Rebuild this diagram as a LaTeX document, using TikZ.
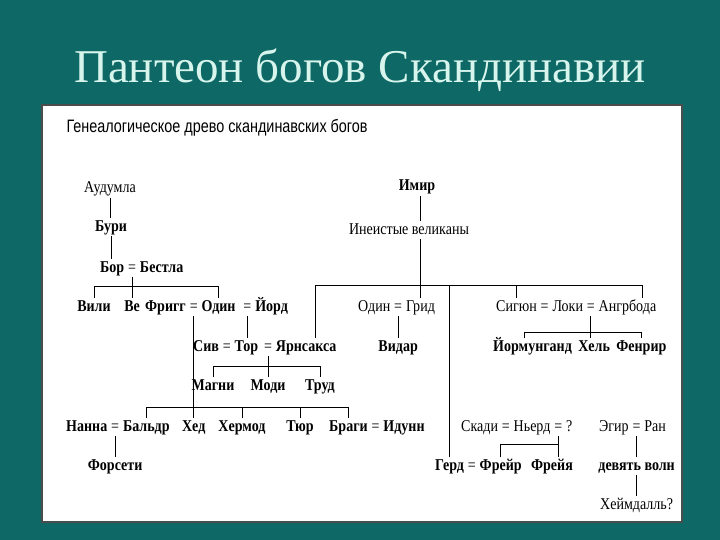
\documentclass[tikz,border=0pt]{standalone}
\usepackage{fontspec}
\setmainfont{Liberation Serif}
\newfontfamily\treefont[FakeStretch=0.85]{Liberation Serif}
\newfontfamily\headfont[FakeStretch=0.8]{Liberation Sans}
\usetikzlibrary{positioning}
\definecolor{slidebg}{RGB}{14,104,102}
\definecolor{titlefg}{RGB}{215,245,236}

\begin{document}
\begin{tikzpicture}[x=1pt,y=-1pt,
    god/.style={inner xsep=1pt, inner ysep=1pt, text height=11.5pt, text depth=3.5pt,
      font=\treefont\fontsize{16.5}{16.5}\selectfont\bfseries},
    giant/.style={god, font=\treefont\fontsize{16.5}{16.5}\selectfont},
    eq/.style={inner xsep=2.5pt, inner ysep=1pt, text height=11.5pt, text depth=3.5pt,
      font=\treefont\fontsize{16.5}{16.5}\selectfont},
    link/.style={line width=1pt}]
    \fill[slidebg] (0,0) rectangle (720,540);
    \node[text=titlefg, font=\fontsize{47}{47}\selectfont] (title) at (360,70) {Пантеон богов Скандинавии};
    \draw[line width=1.5pt, draw=gray!60!black, fill=white] (42,105) rectangle (682,522);
    \node[anchor=west, font=\headfont\fontsize{18}{18}\selectfont] (caption) at (63,128)
      {Генеалогическое древо скандинавских богов};

    % bracket heights
    \coordinate (brbor) at (0,286);
    \coordinate (brgiants) at (0,285);
    \coordinate (brloki) at (0,332);
    \coordinate (brtor) at (0,366);
    \coordinate (brfrigg) at (0,407);
    \coordinate (brnjord) at (0,444);
    \coordinate (rowmagni) at (0,386);
    \coordinate (rowforseti) at (0,466);
    \coordinate (rowheim) at (0,505);

    % Audumla, Buri, Bor
    \node[giant] (audumla) at (110,189) {Аудумла};
    \node[god] (buri) at (111,227) {Бури};
    \node[god, anchor=west] (bor) at (99,268) {Бор};
    \node[eq, right=0pt of bor] (eqbor) {=};
    \node[god, right=0pt of eqbor] (bestla) {Бестла};

    \node[god] (vili) at (94,307) {Вили};
    \node[god] (ve) at (eqbor |- vili) {Ве};
    \node[god, anchor=west] (frigg) at (144,307) {Фригг};
    \node[eq, right=0pt of frigg] (eqfrigg) {=};
    \node[god, right=0pt of eqfrigg] (odin) {Один};
    \node[eq, right=4pt of odin] (eqjord) {=};
    \node[god, right=0pt of eqjord] (jord) {Йорд};

    % Imir and the giants
    \node[god] (imir) at (417,187) {Имир};
    \node[giant] (giants) at (409,230) {Инеистые великаны};
    \node[giant, anchor=west] (odin2) at (357,307) {Один};
    \node[eq, right=0pt of odin2] (eqgrid) {=};
    \node[giant, right=0pt of eqgrid] (grid) {Грид};
    \node[giant, anchor=west] (sigyn) at (495,307) {Сигюн};
    \node[eq, right=0pt of sigyn] (eqsigyn) {=};
    \node[giant, right=0pt of eqsigyn] (loki) {Локи};
    \node[eq, right=0pt of loki] (eqloki) {=};
    \node[giant, right=0pt of eqloki] (angr) {Ангрбода};

    \node[god, anchor=west] (siv) at (192,347) {Сив};
    \node[eq, right=0pt of siv] (eqsiv) {=};
    \node[god, right=0pt of eqsiv] (tor) {Тор};
    \node[eq, right=2pt of tor] (eqtor) {=};
    \node[god, right=0pt of eqtor] (jarn) {Ярнсакса};
    \node[god] (vidar) at (eqgrid |- siv) {Видар};
    \node[god, anchor=west] (jorm) at (492,347) {Йормунганд};
    \node[god, right=4pt of jorm] (hel) {Хель};
    \node[god, right=4pt of hel] (fenrir) {Фенрир};

    \node[god] (magni) at (213,386) {Магни};
    \node[god] (modi) at (eqtor |- rowmagni) {Моди};
    \node[god] (trud) at (320,386) {Труд};

    \node[god, anchor=west] (nanna) at (65,427) {Нанна};
    \node[eq, right=0pt of nanna] (eqnanna) {=};
    \node[god, right=0pt of eqnanna] (baldr) {Бальдр};
    \node[god] (hod) at (eqfrigg |- nanna) {Хед};
    \node[god] (hermod) at (242,427) {Хермод};
    \node[god] (tyr) at (300,427) {Тюр};
    \node[god, anchor=west] (bragi) at (328,427) {Браги};
    \node[eq, right=0pt of bragi] (eqbragi) {=};
    \node[god, right=0pt of eqbragi] (idunn) {Идунн};
    \node[giant, anchor=west] (skadi) at (460,427) {Скади};
    \node[eq, right=0pt of skadi] (eqskadi) {=};
    \node[giant, right=0pt of eqskadi] (njord) {Ньерд};
    \node[eq, right=0pt of njord] (eqnjord) {=};
    \node[giant, right=0pt of eqnjord] (unknown) {?};
    \node[giant, anchor=west] (aegir) at (598,427) {Эгир};
    \node[eq, right=0pt of aegir] (eqaegir) {=};
    \node[giant, right=0pt of eqaegir] (ran) {Ран};

    \node[god] (forseti) at (eqnanna |- rowforseti) {Форсети};
    \node[god, anchor=west] (gerd) at (434,466) {Герд};
    \node[eq, right=0pt of gerd] (eqgerd) {=};
    \node[god, right=0pt of eqgerd] (freyr) {Фрейр};
    \node[god] (freyja) at (552,466) {Фрейя};
    \node[god] (waves) at (eqaegir |- gerd) {девять волн};
    \node[giant] (heimdall) at (waves |- rowheim) {Хеймдалль?};

    % lines of descent
    \draw[link] (audumla.south) -- (audumla.south |- buri.north);
    \draw[link] (buri.south) -- (buri.south |- bor.north);
    \draw[link] (eqbor.south) -- (ve.north);
    \draw[link] (vili.north) -- (vili.north |- brbor) -- (odin.north |- brbor) -- (odin.north);
    \draw[link] (eqfrigg.south) -- (hod.north);
    \draw[link] (baldr.north) -- (baldr.north |- brfrigg) -- (bragi.north |- brfrigg) -- (bragi.north);
    \draw[link] (hermod.north) -- (hermod.north |- brfrigg);
    \draw[link] (tyr.north) -- (tyr.north |- brfrigg);
    \draw[link] (eqnanna.south) -- (forseti.north);
    \draw[link] (eqjord.south) -- (eqjord.south |- tor.north);
    \draw[link] (eqtor.south) -- (modi.north);
    \draw[link] (magni.north) -- (magni.north |- brtor) -- (trud.north |- brtor) -- (trud.north);

    \draw[link] (grid.north |- imir.south) -- (grid.north |- giants.north);
    \draw[link] (grid.north) -- (grid.north |- giants.south);
    \draw[link] ([xshift=9pt]jarn.north) -- ([xshift=9pt]jarn.north |- brgiants)
      -- ([xshift=15pt]angr.north |- brgiants) -- ([xshift=15pt]angr.north);
    \draw[link] (sigyn.north) -- (sigyn.north |- brgiants);
    \draw[link] (gerd.north) -- (gerd.north |- brgiants);
    \draw[link] (eqgrid.south) -- (vidar.north);
    \draw[link] (eqloki.south) -- (eqloki.south |- hel.north);
    \draw[link] ([xshift=-8pt]jorm.north) -- ([xshift=-8pt]jorm.north |- brloki)
      -- (fenrir.north |- brloki) -- (fenrir.north);
    \draw[link] (eqnjord.south) -- (eqnjord.south |- freyja.north);
    \draw[link] (freyr.north) -- (freyr.north |- brnjord) -- (eqnjord.south |- brnjord);
    \draw[link] (eqaegir.south) -- (waves.north);
    \draw[link] (waves.south) -- (heimdall.north);
\end{tikzpicture}
\end{document}
